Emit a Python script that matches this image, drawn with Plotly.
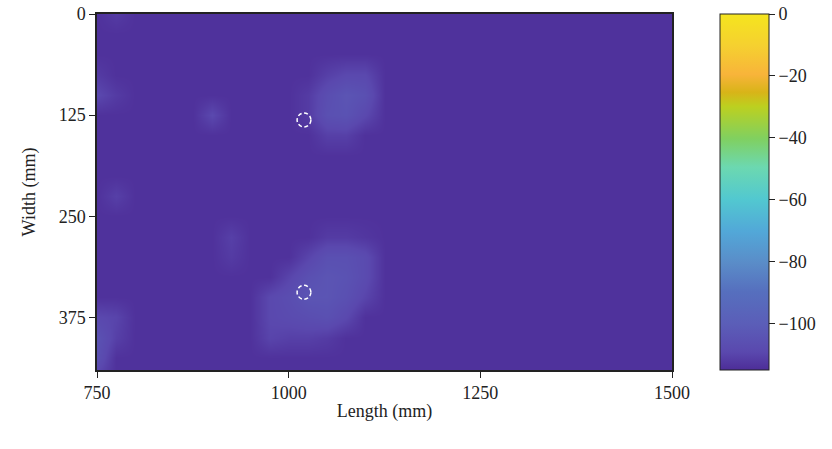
import plotly.graph_objects as go

# Grid coordinates (mm)
length_mm = [750, 775, 800, 825, 850, 875, 900, 925, 950, 975, 1000, 1025, 1050, 1075, 1100, 1125,
             1150, 1175, 1200, 1225, 1250, 1275, 1300, 1325, 1350, 1375, 1400, 1425, 1450, 1475, 1500]
width_mm = [0, 25, 50, 75, 100, 125, 150, 175, 200, 225, 250, 275, 300, 325, 350, 375, 400, 425, 450]

# Values (dB), rows = width, cols = length
z_values = [
    [-114, -112, -114, -114, -114, -114, -114, -114, -114, -114, -114, -114, -114, -114, -114, -114,
     -114, -114, -114, -114, -114, -114, -114, -114, -114, -114, -114, -114, -114, -114, -114],
    [-114, -114, -114, -114, -114, -114, -114, -114, -114, -114, -114, -114, -114, -114, -114, -114,
     -114, -114, -114, -114, -114, -114, -114, -114, -114, -114, -114, -114, -114, -114, -114],
    [-114, -114, -114, -114, -114, -114, -114, -114, -114, -114, -114, -114, -114, -114, -114, -114,
     -114, -114, -114, -114, -114, -114, -114, -114, -114, -114, -114, -114, -114, -114, -114],
    [-112, -114, -114, -114, -114, -114, -114, -114, -114, -114, -114, -114, -111, -109, -109, -114,
     -114, -114, -114, -114, -114, -114, -114, -114, -114, -114, -114, -114, -114, -114, -114],
    [-109, -112, -114, -114, -114, -114, -114, -114, -114, -114, -114, -112, -107, -104, -106, -114,
     -114, -114, -114, -114, -114, -114, -114, -114, -114, -114, -114, -114, -114, -114, -114],
    [-114, -114, -114, -114, -114, -114, -109, -114, -114, -114, -114, -112, -106, -105, -109, -114,
     -114, -114, -114, -114, -114, -114, -114, -114, -114, -114, -114, -114, -114, -114, -114],
    [-114, -114, -114, -114, -114, -114, -114, -114, -114, -114, -114, -114, -111, -111, -114, -114,
     -114, -114, -114, -114, -114, -114, -114, -114, -114, -114, -114, -114, -114, -114, -114],
    [-114, -114, -114, -114, -114, -114, -114, -114, -114, -114, -114, -114, -114, -114, -114, -114,
     -114, -114, -114, -114, -114, -114, -114, -114, -114, -114, -114, -114, -114, -114, -114],
    [-114, -114, -114, -114, -114, -114, -114, -114, -114, -114, -114, -114, -114, -114, -114, -114,
     -114, -114, -114, -114, -114, -114, -114, -114, -114, -114, -114, -114, -114, -114, -114],
    [-114, -111, -114, -114, -114, -114, -114, -114, -114, -114, -114, -114, -114, -114, -114, -114,
     -114, -114, -114, -114, -114, -114, -114, -114, -114, -114, -114, -114, -114, -114, -114],
    [-114, -114, -114, -114, -114, -114, -114, -114, -114, -114, -114, -114, -114, -114, -114, -114,
     -114, -114, -114, -114, -114, -114, -114, -114, -114, -114, -114, -114, -114, -114, -114],
    [-114, -114, -114, -114, -114, -114, -114, -111, -114, -114, -114, -114, -112, -112, -113, -114,
     -114, -114, -114, -114, -114, -114, -114, -114, -114, -114, -114, -114, -114, -114, -114],
    [-114, -114, -114, -114, -114, -114, -114, -112, -114, -114, -114, -110, -106, -106, -108, -114,
     -114, -114, -114, -114, -114, -114, -114, -114, -114, -114, -114, -114, -114, -114, -114],
    [-114, -114, -114, -114, -114, -114, -114, -114, -114, -114, -110, -106, -104, -105, -108, -114,
     -114, -114, -114, -114, -114, -114, -114, -114, -114, -114, -114, -114, -114, -114, -114],
    [-114, -114, -114, -114, -114, -114, -114, -114, -114, -109, -107, -104, -104, -106, -110, -114,
     -114, -114, -114, -114, -114, -114, -114, -114, -114, -114, -114, -114, -114, -114, -114],
    [-109, -110, -114, -114, -114, -114, -114, -114, -114, -109, -108, -107, -106, -109, -114, -114,
     -114, -114, -114, -114, -114, -114, -114, -114, -114, -114, -114, -114, -114, -114, -114],
    [-105, -111, -114, -114, -114, -114, -114, -114, -114, -110, -111, -111, -112, -114, -114, -114,
     -114, -114, -114, -114, -114, -114, -114, -114, -114, -114, -114, -114, -114, -114, -114],
    [-106, -114, -114, -114, -114, -114, -114, -114, -114, -114, -114, -114, -114, -114, -114, -114,
     -114, -114, -114, -114, -114, -114, -114, -114, -114, -114, -114, -114, -114, -114, -114],
    [-111, -114, -114, -114, -114, -114, -114, -114, -114, -114, -114, -114, -114, -114, -114, -114,
     -114, -114, -114, -114, -114, -114, -114, -114, -114, -114, -114, -114, -114, -114, -114],
]

# Marked locations (dashed circles)
mark_x = [1020, 1020]
mark_y = [131, 344]
mark_rx = 9
mark_ry = 8.6

x_ticks = [750, 1000, 1250, 1500]
y_ticks = [0, 125, 250, 375]
cb_ticks = [-100, -80, -60, -40, -20, 0]
cb_ticktext = ["\u2212100", "\u221280", "\u221260", "\u221240", "\u221220", "0"]

colorscale = [
    [0.00, "#4d2d98"],
    [0.05, "#5a48ae"],
    [0.13, "#5b5eb8"],
    [0.22, "#566fbe"],
    [0.30, "#5a8cc8"],
    [0.39, "#52a8d8"],
    [0.48, "#52c8d0"],
    [0.57, "#6cd8b0"],
    [0.65, "#80d060"],
    [0.74, "#bcd020"],
    [0.78, "#d8b418"],
    [0.83, "#f8b43a"],
    [0.91, "#f5d030"],
    [1.00, "#f5e51e"],
]

FONT = "Liberation Serif"
TXT = "#222222"
FS = 18

fig = go.Figure()
fig.add_trace(go.Heatmap(
    x=length_mm, y=width_mm, z=z_values,
    zmin=-115, zmax=0, zsmooth="best",
    colorscale=colorscale,
    colorbar=dict(
        thickness=49, thicknessmode="pixels",
        len=1.0, lenmode="fraction", y=0.5, yanchor="middle", ypad=0,
        x=1.0835, xanchor="left", xpad=0,
        outlinecolor="#222222", outlinewidth=1,
        ticks="outside", ticklen=6, tickwidth=1, tickcolor="#222222",
        tickvals=cb_ticks, ticktext=cb_ticktext,
        tickfont=dict(family=FONT, size=FS, color=TXT),
    ),
    hoverinfo="skip",
))

for cx, cy in zip(mark_x, mark_y):
    fig.add_shape(type="circle", xref="x", yref="y",
                  x0=cx - mark_rx, x1=cx + mark_rx, y0=cy - mark_ry, y1=cy + mark_ry,
                  line=dict(color="white", width=1.5, dash="4px,2.5px"))

fig.update_layout(
    width=832, height=449,
    margin=dict(l=97, r=160, t=14, b=79, autoexpand=False),
    paper_bgcolor="white", plot_bgcolor="white",
    font=dict(family=FONT, size=FS, color=TXT),
    showlegend=False,
)
fig.update_xaxes(
    range=[750, 1500], tickvals=x_ticks,
    showline=True, linecolor="#222222", linewidth=1.5, mirror=True,
    ticks="outside", ticklen=6, tickcolor="#222222",
    showgrid=False, zeroline=False, automargin=False,
    title=dict(text="Length (mm)", font=dict(family=FONT, size=FS, color=TXT), standoff=2),
    tickfont=dict(family=FONT, size=FS, color=TXT),
)
fig.update_yaxes(
    range=[440, 0], tickvals=y_ticks,
    showline=True, linecolor="#222222", linewidth=1.5, mirror=True,
    ticks="outside", ticklen=6, tickcolor="#222222",
    showgrid=False, zeroline=False, automargin=False,
    title=dict(text="Width (mm)", font=dict(family=FONT, size=FS, color=TXT), standoff=18),
    tickfont=dict(family=FONT, size=FS, color=TXT),
)

fig.write_html("out.html")
